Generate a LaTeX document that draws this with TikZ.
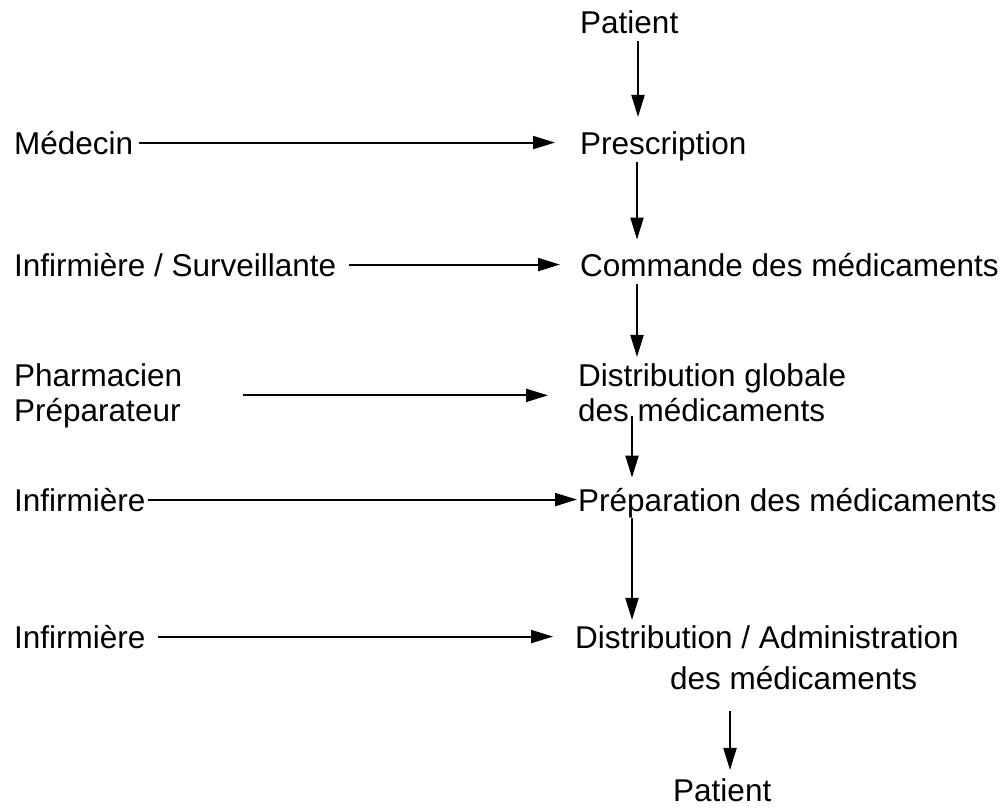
\documentclass[tikz,border=0pt]{standalone}
\usepackage{fontspec}
\setmainfont{Liberation Sans}
\usetikzlibrary{arrows.meta,positioning}

\begin{document}
\begin{tikzpicture}[x=1pt,y=-1pt,
  lbl/.style={anchor=base west,inner sep=0pt,align=left,font=\fontsize{31.5}{35}\selectfont},
  flow/.style={-{Triangle[length=22pt,width=13pt]},line width=2pt}]
  \useasboundingbox (0,0) rectangle (1008,809);

  % process steps
  \node[lbl] (patA) at (580,33) {Patient};
  \node[lbl] (presc) at (580,154) {Prescription};
  \node[lbl] (cmd) at (580,276) {Commande des médicaments};
  \node[lbl] (distglob) at (578,421) {Distribution globale\\des médicaments};
  \node[lbl] (prepa) at (578,511) {Préparation des médicaments};
  \node[lbl] (distadm) at (575,689) {Distribution / Administration\\[6pt]\hspace*{95pt}des médicaments};
  \node[lbl] (patB) at (673,801) {Patient};

  % actors
  \node[lbl] (med) at (14,154) {Médecin};
  \node[lbl] (infsurv) at (14,276) {Infirmière / Surveillante};
  \node[lbl] (pharma) at (14,421) {Pharmacien\\Préparateur};
  \node[lbl] (infA) at (14,511) {Infirmière};
  \node[lbl] (infB) at (14,648) {Infirmière};

  % main flow
  \draw[flow,shorten <=7pt,shorten >=14pt] (patA.south -| 638,0) -- (presc.north -| 638,0);
  \draw[flow,shorten <=1pt,shorten >=13pt] (presc.south -| 637,0) -- (cmd.north -| 637,0);
  \draw[flow,shorten <=7pt,shorten >=6pt] (cmd.south -| 637,0) -- (distglob.north -| 637,0);
  \draw[flow,shorten <=-6pt,shorten >=10pt] (distglob.south -| 632,0) -- (prepa.north -| 632,0);
  \draw[flow,shorten >=5pt] (prepa.south -| 632,0) -- (distadm.north -| 632,0);
  \draw[flow,shorten <=21pt,shorten >=8pt] (distadm.south -| 730,0) -- (patB.north -| 730,0);

  % who does what
  \draw[flow,shorten <=6pt,shorten >=25pt] (med.east) -- (med.east -| presc.west);
  \draw[flow,shorten <=12pt,shorten >=20pt] (infsurv.east) -- (infsurv.east -| cmd.west);
  \draw[flow,shorten <=61pt,shorten >=30pt] (pharma.east) -- (pharma.east -| distglob.west);
  \draw[flow,shorten <=2pt,shorten >=1pt] (infA.east) -- (infA.east -| prepa.west);
  \draw[flow,shorten <=12pt,shorten >=22pt] (infB.east) -- (infB.east -| distadm.west);
\end{tikzpicture}
\end{document}
